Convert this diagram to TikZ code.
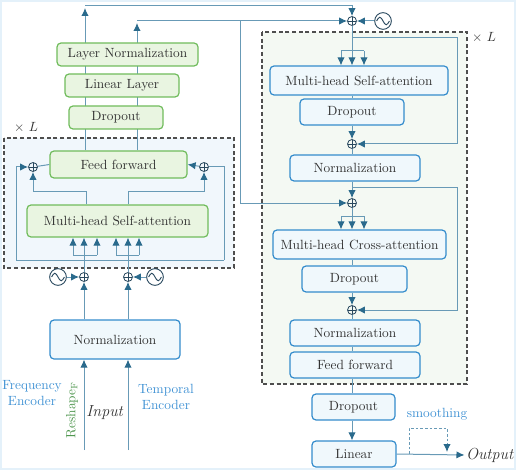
\documentclass[tikz,border=0pt]{standalone}
\usetikzlibrary{arrows.meta}

\definecolor{linec}{RGB}{104,154,182}
\definecolor{tipc}{RGB}{42,106,140}
\definecolor{opc}{RGB}{40,72,94}
\definecolor{boxblue}{RGB}{52,140,204}
\definecolor{boxbluefill}{RGB}{240,248,252}
\definecolor{boxgreen}{RGB}{112,188,92}
\definecolor{boxgreenfill}{RGB}{233,245,225}
\definecolor{txtgray}{RGB}{51,51,51}
\definecolor{lblue}{RGB}{64,146,212}
\definecolor{lgreen}{RGB}{78,150,78}
\definecolor{leftfill}{RGB}{241,247,252}
\definecolor{rightfill}{RGB}{244,249,243}
\definecolor{framec}{RGB}{228,241,250}
\definecolor{dashc}{RGB}{78,78,78}

\pgfdeclarelayer{back}
\pgfdeclarelayer{mid}
\pgfsetlayers{back,mid,main}

\tikzset{
  bbox/.style={draw=boxblue, fill=boxbluefill, line width=0.9pt, rounded corners=3pt, text=txtgray, inner sep=0pt},
  gbox/.style={draw=boxgreen, fill=boxgreenfill, line width=0.9pt, rounded corners=3pt, text=txtgray, inner sep=0pt},
  conn/.style={draw=linec, line width=0.75pt},
  arr/.style={conn, -{Latex[length=6pt,width=5.5pt,color=tipc]}},
  dbox/.style={draw=dashc, line width=0.9pt, dash pattern={on 3pt off 2pt}},
  addop/.style={circle, draw=opc, line width=0.6pt, minimum size=6.75pt, inner sep=0pt,
    path picture={\draw[opc, line width=0.6pt] (path picture bounding box.north) -- (path picture bounding box.south) (path picture bounding box.west) -- (path picture bounding box.east);}},
  sinus/.style={circle, draw=opc, line width=0.7pt, minimum size=12.5pt, inner sep=0pt,
    path picture={\draw[opc, line width=0.7pt] ([xshift=-4.8pt]path picture bounding box.center) sin ++(2.4pt,2.8pt) cos ++(2.4pt,-2.8pt) sin ++(2.4pt,-2.8pt) cos ++(2.4pt,2.8pt);}},
}

\begin{document}
\begin{tikzpicture}[x=0.75pt,y=0.75pt,yscale=-1,xscale=1]
\useasboundingbox (0,0) rectangle (516,470);

\begin{pgfonlayer}{back}
% frame
\draw[framec, line width=1.5pt] (1,1) rectangle (515,469);
% Encoder repeat block
\draw[dbox, fill=leftfill] (4,138) rectangle (234,268);
% Decoder repeat block
\draw[dbox, fill=rightfill] (262,32) rectangle (467,384);
\end{pgfonlayer}

% Encoder side
\node[gbox, minimum width=105.75pt, minimum height=17.25pt] (lnorm) at (127.5,54.5) {Layer Normalization};
\node[gbox, minimum width=85.5pt, minimum height=17.25pt] (linl) at (122,85.5) {Linear Layer};
\node[gbox, minimum width=70.5pt, minimum height=17.25pt] (dropA) at (116,117.5) {Dropout};
\node[gbox, minimum width=102.75pt, minimum height=20.25pt] (ffA) at (118.5,164.5) {Feed forward};
\node[gbox, minimum width=135.75pt, minimum height=24pt] (mhsaA) at (117.5,221) {Multi-head Self-attention};
\node[bbox, minimum width=97.5pt, minimum height=29.25pt] (normA) at (115,339.5) {Normalization};

\node[addop] (addL) at (33,167) {};
\node[addop] (addR) at (204,167) {};
\node[addop] (addI1) at (84,277) {};
\node[addop] (addI2) at (128,277) {};
\node[sinus] (sinI1) at (58,277) {};
\node[sinus] (sinI2) at (155,277) {};

% Decoder side
\node[bbox, minimum width=133.5pt, minimum height=21.75pt] (mhsaB) at (359,80.5) {Multi-head Self-attention};
\node[bbox, minimum width=78pt, minimum height=19.5pt] (dropB) at (352,112) {Dropout};
\node[bbox, minimum width=97.5pt, minimum height=19.5pt] (normB) at (355,168) {Normalization};
\node[bbox, minimum width=129.75pt, minimum height=21.75pt] (mhca) at (359.5,244.5) {Multi-head Cross-attention};
\node[bbox, minimum width=78.75pt, minimum height=19.5pt] (dropC) at (354.5,279) {Dropout};
\node[bbox, minimum width=97.5pt, minimum height=19.5pt] (normC) at (355,333) {Normalization};
\node[bbox, minimum width=97.5pt, minimum height=19.5pt] (ffB) at (355,365) {Feed forward};
\node[bbox, minimum width=62.25pt, minimum height=19.5pt] (dropD) at (353.5,407) {Dropout};
\node[bbox, minimum width=63pt, minimum height=19.5pt] (lin) at (354,454) {Linear};

\node[addop] (addT) at (352,21) {};
\node[sinus] (sinT) at (383,21) {};
\node[addop] (addA) at (352,144) {};
\node[addop] (addC) at (352,203) {};
\node[addop] (addB) at (352,310) {};

% Text nodes
\node[text=txtgray] (xlA) at (26,128) {$\times\ L$};
\node[text=txtgray] (xlB) at (484,38) {$\times\ L$};
\node[text=lblue, align=center] (freq) at (32,393) {Frequency\\Encoder};
\node[text=lblue, align=center] (temp) at (166,397) {Temporal\\Encoder};
\node[text=lgreen, rotate=90] (resh) at (72,410) {Reshape$_\mathrm{F}$};
\node[text=txtgray] (inp) at (105,413) {\large\textit{Input}};
\node[text=txtgray, inner sep=1pt] (out) at (490,455) {\large\textit{Output}};
\node[text=lblue] (smo) at (437,414) {smoothing};

\coordinate (up1) at (85,8);
\coordinate (t1) at (85,6);
\coordinate (up2) at (137,23);
\coordinate (t2) at (137,21);
\coordinate (br) at (240,21);
\coordinate (r1) at (352,38);
\coordinate (r1e) at (457,38);
\coordinate (r2) at (352,187);
\coordinate (r2e) at (457,187);
\coordinate (s1) at (352,51);
\coordinate (s1l) at (341,51);
\coordinate (s1r) at (364,51);
\coordinate (s2) at (352,216);
\coordinate (s2l) at (341,216);
\coordinate (s2r) at (364,216);
\coordinate (m1) at (86,191);
\coordinate (m2) at (128,191);
\coordinate (lpA) at (16,260);
\coordinate (lpB) at (224,260);
\coordinate (s3) at (84,255);
\coordinate (s3l) at (73,255);
\coordinate (s3r) at (97,255);
\coordinate (s4) at (128,255);
\coordinate (s4l) at (116,255);
\coordinate (s4r) at (139,255);
\coordinate (in1) at (84,450);
\coordinate (in2) at (128,450);
\coordinate (sm1) at (409,454);
\coordinate (smA) at (409,428);
\coordinate (smB) at (447,428);
\coordinate (sm3) at (447,452);

\begin{pgfonlayer}{mid}
% encoder output to decoder
\draw[arr] (ffA.north -| up1) -- (up1);
\draw[arr] (t1) -| (addT);
\draw[arr] (ffA.north -| up2) -- (up2);
\draw[arr] (t2) -- (addT);
\draw[arr] (br) |- (addC);
\draw[arr] (sinT) -- (addT);

% decoder
\draw[conn] (addT) -- (s1);
\draw[conn] (s1l) -- (s1r);
\draw[arr] (s1l) -- (s1l |- mhsaB.north);
\draw[arr] (s1) -- (s1 |- mhsaB.north);
\draw[arr] (s1r) -- (s1r |- mhsaB.north);
\draw[arr] (r1) -- (r1e) |- (addA);
\draw[conn] (mhsaB.south -| addA) -- (dropB.north -| addA);
\draw[arr] (dropB.south -| addA) -- (addA);
\draw[conn] (addA) -- (normB.north -| addA);
\draw[arr] (normB.south -| addC) -- (addC);
\draw[arr] (r2) -- (r2e) |- (addB);
\draw[conn] (addC) -- (s2);
\draw[conn] (s2l) -- (s2r);
\draw[arr] (s2l) -- (s2l |- mhca.north);
\draw[arr] (s2) -- (s2 |- mhca.north);
\draw[arr] (s2r) -- (s2r |- mhca.north);
\draw[conn] (mhca.south -| addB) -- (dropC.north -| addB);
\draw[arr] (dropC.south -| addB) -- (addB);
\draw[conn] (addB) -- (normC.north -| addB);
\draw[conn] (normC.south -| addB) -- (ffB.north -| addB);
\draw[conn] (ffB.south -| addB) -- (dropD.north -| addB);
\draw[arr] (dropD.south -| addB) -- (lin.north -| addB);
\draw[arr] (lin.east) -- (out.west);
\draw[arr, dash pattern={on 2pt off 1.5pt}] (sm1) -- (smA) -- (smB) -- (sm3);

% encoder
\draw[arr] (addR) -- (ffA.east);
\draw[conn] (addL) -- (ffA.west);
\draw[arr] (lpA) |- (addL);
\draw[conn] (lpB) |- (addR);
\draw[conn] (lpA) -- (lpB);
\draw[arr] (mhsaA.north -| m1) -- (m1) -| (addL);
\draw[arr] (mhsaA.north -| m2) -- (m2) -| (addR);
\draw[arr] (sinI1) -- (addI1);
\draw[arr] (sinI2) -- (addI2);
\draw[arr] (normA.north -| addI1) -- (addI1);
\draw[arr] (normA.north -| addI2) -- (addI2);
\draw[conn] (addI1) -- (s3);
\draw[conn] (s3l) -- (s3r);
\draw[arr] (s3l) -- (s3l |- mhsaA.south);
\draw[arr] (s3) -- (s3 |- mhsaA.south);
\draw[arr] (s3r) -- (s3r |- mhsaA.south);
\draw[conn] (addI2) -- (s4);
\draw[conn] (s4l) -- (s4r);
\draw[arr] (s4l) -- (s4l |- mhsaA.south);
\draw[arr] (s4) -- (s4 |- mhsaA.south);
\draw[arr] (s4r) -- (s4r |- mhsaA.south);
\draw[arr] (in1) -- (normA.south -| in1);
\draw[arr] (in2) -- (normA.south -| in2);
\end{pgfonlayer}

\end{tikzpicture}
\end{document}
